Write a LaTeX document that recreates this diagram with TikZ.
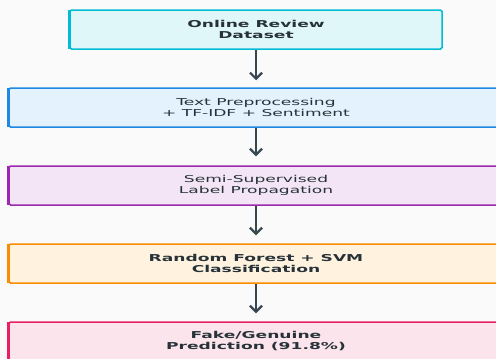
\documentclass[tikz,border=0pt]{standalone}
\usepackage{fontspec}
\newfontfamily\dvfont[FakeStretch=1.8]{DejaVu Sans}
\usetikzlibrary{arrows.meta}
\definecolor{bg}{HTML}{FAFAFA}
\definecolor{arrowc}{HTML}{37474F}
\definecolor{txt}{HTML}{263238}
\definecolor{fA}{HTML}{E0F7FA}\definecolor{dA}{HTML}{00BCD4}
\definecolor{fB}{HTML}{E3F2FD}\definecolor{dB}{HTML}{1E88E5}
\definecolor{fC}{HTML}{F3E5F5}\definecolor{dC}{HTML}{9C27B0}
\definecolor{fD}{HTML}{FFF3E0}\definecolor{dD}{HTML}{FB8C00}
\definecolor{fE}{HTML}{FCE4EC}\definecolor{dE}{HTML}{E91E63}
\tikzset{
  stagebox/.style={draw, line width=1.5bp, rounded corners=1.5bp, minimum height=39bp,
    inner sep=0pt, align=center, text=txt,
    font=\dvfont\fontsize{9.5bp}{11bp}\selectfont},
  boldbox/.style={stagebox, font=\dvfont\bfseries\fontsize{9.5bp}{11bp}\selectfont},
  flowarrow/.style={draw=arrowc, line width=2.2bp, -{Straight Barb[length=6bp,width=12bp]}},
}
\begin{document}
\begin{tikzpicture}[x=1bp,y=-1bp]
\fill[bg] (0,0) rectangle (496,358);
\useasboundingbox (0,0) rectangle (496,358);
\clip (0,0) rectangle (496,358);
\node[boldbox, fill=fA, draw=dA, minimum width=372bp] (n1) at (256,29.5) {Online Review\\Dataset};
\node[stagebox, fill=fB, draw=dB, minimum width=494bp] (n2) at (256,107.5) {Text Preprocessing\\+ TF-IDF + Sentiment};
\node[stagebox, fill=fC, draw=dC, minimum width=494bp] (n3) at (256,185.5) {Semi-Supervised\\Label Propagation};
\node[boldbox, fill=fD, draw=dD, minimum width=494bp] (n4) at (256,263.5) {Random Forest + SVM\\Classification};
\node[boldbox, fill=fE, draw=dE, minimum width=494bp] (n5) at (256,341.5) {Fake/Genuine\\Prediction (91.8\%)};
\foreach \n/\c in {n1/dA,n2/dB,n3/dC,n4/dD,n5/dE}{
  \draw[\c, line width=2.5bp] ([xshift=0.5bp,yshift=-1bp]\n.north west) -- ([xshift=0.5bp,yshift=1bp]\n.south west);
}
\draw[flowarrow] (n1.south) -- ([yshift=7bp]n2.north);
\draw[flowarrow] (n2.south) -- ([yshift=9bp]n3.north);
\draw[flowarrow] (n3.south) -- ([yshift=8bp]n4.north);
\draw[flowarrow] (n4.south) -- ([yshift=8bp]n5.north);
\end{tikzpicture}
\end{document}
